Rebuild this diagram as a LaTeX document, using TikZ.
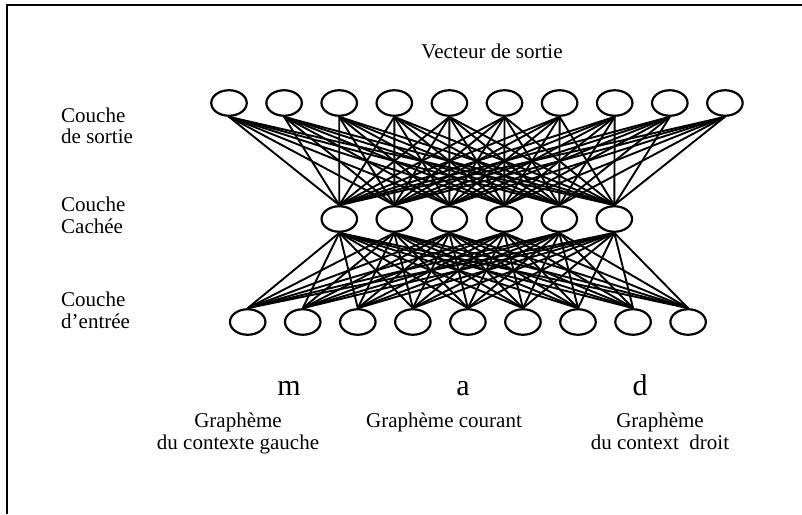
\documentclass[tikz,border=0pt]{standalone}
\usepackage{fontspec}
\setmainfont{Liberation Serif}
\usetikzlibrary{shapes.geometric}
\tikzset{
  neuron/.style={ellipse, draw, line width=2.2pt, minimum width=35.5pt, minimum height=25.5pt, inner sep=0pt},
  link/.style={line width=1.9pt},
  lbl/.style={font=\fontsize{21}{22}\selectfont, inner sep=0pt},
  big/.style={font=\fontsize{30}{32}\selectfont, inner sep=0pt}
}
\begin{document}
\begin{tikzpicture}[x=1pt,y=-1pt]
\useasboundingbox (0,0) rectangle (802,514);
% frame
\coordinate (fa) at (7,514);
\coordinate (fb) at (7,5);
\coordinate (fc) at (802,5);
\draw[line width=2.2pt] (fa) -- (fb) -- (fc);
% output layer
\foreach \i in {1,...,10} {
  \node[neuron] (o\i) at ({229+(\i-1)*55.1},103) {};
}
% hidden layer
\foreach \i in {1,...,6} {
  \node[neuron] (h\i) at ({339.3+(\i-1)*55},219) {};
}
% input layer
\foreach \i in {1,...,9} {
  \node[neuron] (e\i) at ({247.7+(\i-1)*55.05},322) {};
}
% connections
\foreach \i in {1,...,10} {
  \foreach \j in {1,...,6} {
    \draw[link] (o\i.south) -- (h\j.north);
  }
}
\foreach \j in {1,...,6} {
  \foreach \k in {1,...,9} {
    \draw[link] (h\j.south) -- (e\k.north);
  }
}
% labels
\node[lbl, anchor=base] (vs) at (492,58) {Vecteur de sortie};
\node[lbl, anchor=base west] (c1a) at (61,122) {Couche};
\node[lbl, anchor=base west] (c1b) at (61,143) {de sortie};
\node[lbl, anchor=base west] (c2a) at (61,211) {Couche};
\node[lbl, anchor=base west] (c2b) at (61,233) {Cachée};
\node[lbl, anchor=base west] (c3a) at (61,306) {Couche};
\node[lbl, anchor=base west] (c3b) at (61,328) {d’entrée};
\node[big, anchor=base] (m) at (289,395) {m};
\node[big, anchor=base] (a) at (463,395) {a};
\node[big, anchor=base] (d) at (640,395) {d};
\node[lbl, anchor=base] (g1a) at (238,427) {Graphème};
\node[lbl, anchor=base] (g1b) at (238,449) {du contexte gauche};
\node[lbl, anchor=base] (g2) at (444,427) {Graphème courant};
\node[lbl, anchor=base] (g3a) at (660,427) {Graphème};
\node[lbl, anchor=base] (g3b) at (660,449) {du context\ \ droit};
\end{tikzpicture}
\end{document}
